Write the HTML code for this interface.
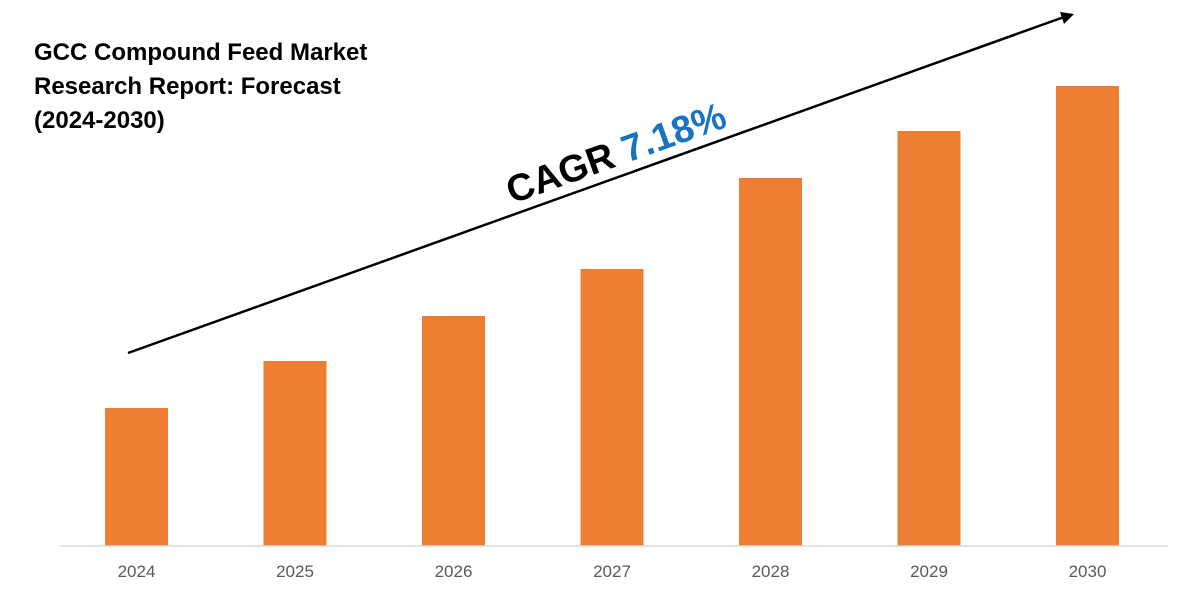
<!DOCTYPE html>
<html><head><meta charset="utf-8"><style>
html,body{margin:0;padding:0;background:#fff;}
body{width:1200px;height:600px;overflow:hidden;font-family:"Liberation Sans",sans-serif;}
</style></head><body>
<svg id="chart" width="1200" height="600" viewBox="0 0 1200 600" xmlns="http://www.w3.org/2000/svg">
<g font-family="Liberation Sans, sans-serif" font-weight="bold" font-size="24" fill="#000">
<text x="34" y="60">GCC Compound Feed Market</text>
<text x="34" y="94">Research Report: Forecast</text>
<text x="34" y="128">(2024-2030)</text>
</g>
<g id="bars"></g>
<line x1="60" y1="546" x2="1168" y2="546" stroke="#d9d9d9" stroke-width="1.5"/>
<g id="labels"></g>
<g>
<line x1="128" y1="353" x2="1064" y2="17" stroke="#000" stroke-width="2.5"/>
<polygon points="1074,14 1060,12 1064,24" fill="#000"/>
</g>
<text transform="translate(512,204) rotate(-19.7)" font-family="Liberation Sans, sans-serif" font-weight="bold" font-size="38"><tspan fill="#000">CAGR </tspan><tspan fill="#1a73c0">7.18%</tspan></text>
</svg>
<script>
const categories=["2024","2025","2026","2027","2028","2029","2030"];
const values=[138,185,230,277,368,415,460];
const yMax=500;
const baseY=546, plotH=500, x0=105, step=158.5, barW=63;
function yScale(v){return baseY - v/yMax*plotH;}
function xScale(i){return x0 + i*step;}
const NS="http://www.w3.org/2000/svg";
const bars=document.getElementById('bars'), labels=document.getElementById('labels');
categories.forEach((c,i)=>{
  const r=document.createElementNS(NS,'rect');
  
  
  r.setAttribute('x',xScale(i));
  r.setAttribute('y',yScale(values[i]));
  r.setAttribute('width',barW);
  r.setAttribute('height',baseY-yScale(values[i]));
  r.setAttribute('fill','#ed7d31');
  bars.appendChild(r);
  const t=document.createElementNS(NS,'text');
  
  
  t.setAttribute('x',xScale(i)+barW/2);
  t.setAttribute('y',577);
  t.setAttribute('text-anchor','middle');
  t.setAttribute('font-size','17');
  t.setAttribute('fill','#595959');
  t.setAttribute('font-family','Liberation Sans, sans-serif');
  t.textContent=c;
  labels.appendChild(t);
});
</script>
</body></html>
